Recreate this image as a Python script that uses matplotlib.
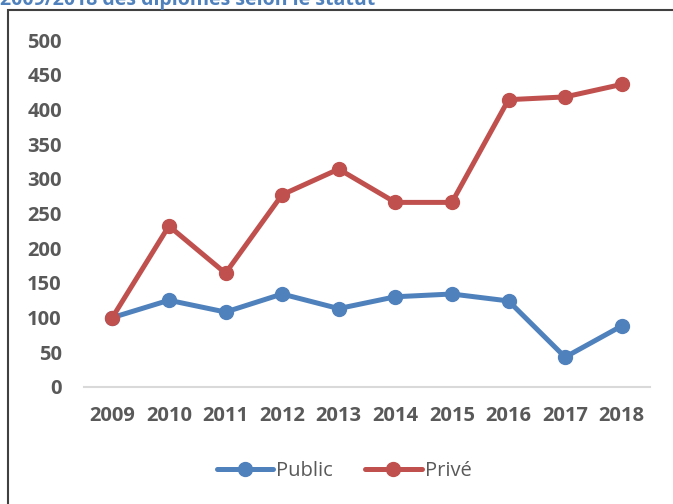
import matplotlib
matplotlib.use("Agg")
import matplotlib.pyplot as plt
from matplotlib.patches import Rectangle

# data
years = ["2009", "2010", "2011", "2012", "2013", "2014", "2015", "2016", "2017", "2018"]
public = [100, 125, 108, 134, 113, 130, 134, 124, 43, 88]
prive = [100, 232, 164, 277, 314, 266, 266, 414, 418, 436]
yticks = [0, 50, 100, 150, 200, 250, 300, 350, 400, 450, 500]

plt.rcParams["font.family"] = ["Open Sans", "DejaVu Sans"]

fig = plt.figure(figsize=(6.73, 5.04), dpi=100)
ax = fig.add_axes([84 / 673, 1 - 387 / 504, (650 - 84) / 673, (387 - 40) / 504])

x = list(range(len(years)))
ax.plot(x, public, color="#4f81bd", lw=3.6, marker="o", ms=10, label="Public",
        solid_capstyle="round")
ax.plot(x, prive, color="#c0504d", lw=3.6, marker="o", ms=10, label="Privé",
        solid_capstyle="round")

ax.set_xlim(-0.5, len(years) - 0.5)
ax.set_ylim(0, 500)
ax.set_xticks(x)
ax.set_xticklabels(years, fontweight="bold")
ax.set_yticks(yticks)
ax.set_yticklabels([str(v) for v in yticks], fontweight="bold")
ax.tick_params(length=0, labelsize=14.5, labelcolor="#595959")
ax.tick_params(axis="x", pad=14)
ax.tick_params(axis="y", pad=16)

for s in ["top", "right", "left"]:
    ax.spines[s].set_visible(False)
ax.spines["bottom"].set_color("#d9d9d9")
ax.spines["bottom"].set_linewidth(1.5)

leg = fig.legend(loc="center", bbox_to_anchor=(344 / 673, 1 - 471 / 504), ncol=2,
                 frameon=False, fontsize=14.5, handlelength=2.8, columnspacing=1.6,
                 handletextpad=0.15)
for t in leg.get_texts():
    t.set_color("#595959")

# frame round the chart area
fig.patches.append(Rectangle((8 / 673, -0.05), 1.0, 1 - 10 / 504 + 0.05,
                             transform=fig.transFigure, fill=False,
                             edgecolor="#404040", lw=1.5))

# title, cut off at the top of the picture
fig.text(0.0, 1 - 5 / 504, "2009/2018 des diplômes selon le statut", color="#4f81bd",
         fontsize=14, fontweight="bold", ha="left", va="baseline")

fig.savefig("out.png", dpi=100)
